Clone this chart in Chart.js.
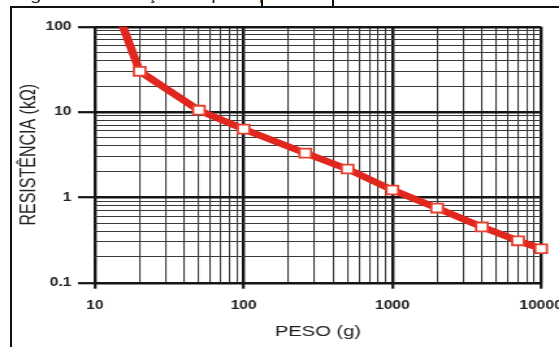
<!DOCTYPE html>
<html>
<head>
<meta charset="utf-8">
<script src="https://cdn.jsdelivr.net/npm/chart.js@4.4.1/dist/chart.umd.min.js"></script>
<style>
  html, body { margin: 0; padding: 0; background: #fff; overflow: hidden; }
  #wrap { position: relative; width: 559px; height: 347px; }
  .frame-top { position: absolute; left: 10px; top: 6px; width: 549px; height: 2px; background: #111; }
  .frame-left { position: absolute; left: 10px; top: 6px; width: 2px; height: 341px; background: #111; }
  .bar { position: absolute; top: 0; width: 2px; height: 7px; background: #111; }
  .cap { position: absolute; left: 0; top: 0; width: 559px; height: 5px; overflow: hidden; }
  .cap span { position: absolute; top: -14px; left: 14px; white-space: nowrap; font: 15px "Liberation Sans", Arial, sans-serif; color: #222; transform: scaleX(1.3); transform-origin: left; }
</style>
</head>
<body>
<div id="wrap">
  <div class="cap"><span>Figura 4 – Relação do peso por resistência elétrica do sensor</span></div>
  <div class="bar" style="left:261px"></div>
  <div class="bar" style="left:332px"></div>
  <div class="frame-top"></div>
  <div class="frame-left"></div>
  <!-- drawn at 430 wide and stretched to 559, the reference is squashed the same way -->
  <canvas id="chart" width="430" height="347" style="position:absolute;left:0;top:0;width:559px;height:347px"></canvas>
</div>
<script>
// Peso (g) vs resistência (kΩ)
const weights = [15, 20, 50, 100, 260, 500, 1000, 2000, 4000, 7000, 10000];
const resistance = [115, 30, 10.5, 6.3, 3.3, 2.15, 1.22, 0.75, 0.45, 0.31, 0.25];

const xTicks = [10, 20, 30, 40, 50, 60, 70, 80, 90,
                100, 200, 300, 400, 500, 600, 700, 800, 900,
                1000, 2000, 3000, 4000, 5000, 6000, 7000, 8000, 9000, 10000];
const yTicks = [0.1, 0.2, 0.3, 0.4, 0.5, 0.6, 0.7, 0.8, 0.9,
                1, 2, 3, 4, 5, 6, 7, 8, 9,
                10, 20, 30, 40, 50, 60, 70, 80, 90, 100];
const xLabels = [10, 100, 1000, 10000];
const yLabels = [0.1, 1, 10, 100];

const FONT = '"Liberation Sans", Arial, sans-serif';
const DARK = '#151515';

function gridFor(labels, tickLen) {
    const major = ctx => ctx.tick && labels.includes(ctx.tick.value);
    return {
        color: ctx => major(ctx) ? DARK : '#3a3a3a',
        lineWidth: ctx => major(ctx) ? 2.4 : 1.1,
        tickColor: ctx => major(ctx) ? DARK : 'rgba(0,0,0,0)',
        tickWidth: 2.2,
        tickLength: tickLen,
        drawTicks: true
    };
}

const ctx = document.getElementById('chart').getContext('2d');
new Chart(ctx, {
    type: 'scatter',
    data: {
        datasets: [{
            data: weights.map((w, i) => ({ x: w, y: resistance[i] })),
            showLine: true,
            borderColor: '#e0261d',
            borderWidth: 6.5,
            tension: 0,
            pointStyle: 'rect',
            pointRadius: c => c.dataIndex === 0 ? 0 : 6.3,
            pointBackgroundColor: '#fff',
            pointBorderColor: '#e8402f',
            pointBorderWidth: 1.8,
            clip: { left: 0, top: 0, right: 20, bottom: 0 }
        }]
    },
    options: {
        responsive: false,
        devicePixelRatio: 1,
        animation: false,
        events: [],
        layout: { padding: { left: 9, right: 13.8, top: 26.7, bottom: 0 } },
        plugins: {
            legend: { display: false },
            tooltip: { enabled: false }
        },
        scales: {
            x: {
                type: 'logarithmic',
                min: 10,
                max: 10000,
                afterBuildTicks: s => { s.ticks = xTicks.map(v => ({ value: v })); },
                afterFit: s => { s.height = 64.3; s.paddingLeft = 0; s.paddingRight = 0; },
                grid: gridFor(xLabels, 6),
                border: { display: false },
                ticks: {
                    autoSkip: false,
                    maxRotation: 0,
                    padding: 10,
                    color: '#222',
                    font: { family: FONT, size: 12, weight: 'bold' },
                    callback: v => xLabels.includes(v) ? String(v) : ''
                },
                title: {
                    display: true,
                    text: 'PESO (g)',
                    color: '#222',
                    font: { family: FONT, size: 15.5 },
                    padding: { top: 0, bottom: 6 }
                }
            },
            y: {
                type: 'logarithmic',
                min: 0.1,
                max: 100,
                afterBuildTicks: s => { s.ticks = yTicks.map(v => ({ value: v })); },
                afterFit: s => { s.width = 64; s.paddingTop = 0; s.paddingBottom = 0; },
                grid: gridFor(yLabels, 13),
                border: { display: false },
                ticks: {
                    autoSkip: false,
                    padding: 5,
                    color: '#222',
                    font: { family: FONT, size: 12, weight: 'bold' },
                    callback: v => yLabels.includes(v) ? String(v) : ''
                },
                title: {
                    display: true,
                    text: 'RESISTÊNCIA (kΩ)',
                    color: '#222',
                    font: { family: FONT, size: 16 },
                    padding: { top: 4, bottom: 0 }
                }
            }
        }
    }
});
</script>
</body>
</html>
